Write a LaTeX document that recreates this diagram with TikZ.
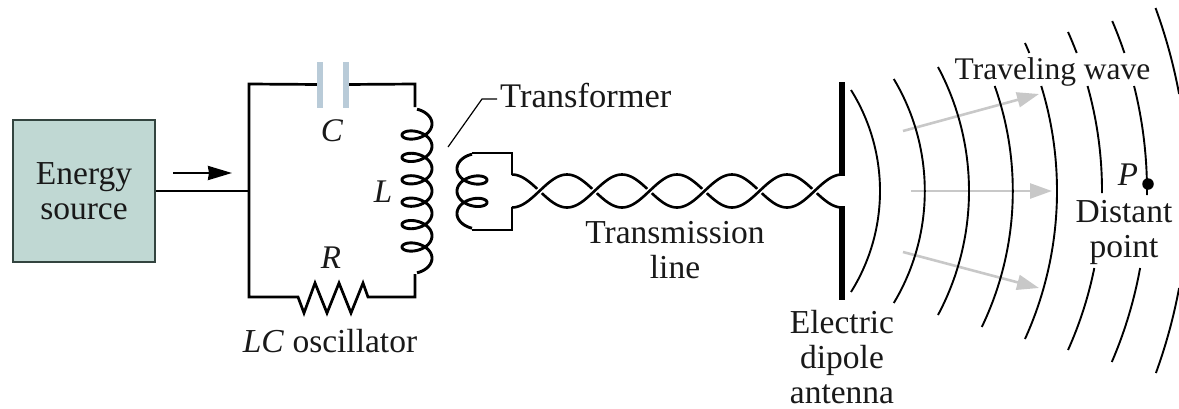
\documentclass[tikz,border=0pt]{standalone}
\usepackage{fontspec}
\setmainfont{Liberation Serif}
\usetikzlibrary{arrows.meta}
\definecolor{boxfill}{HTML}{C0D8D3}
\definecolor{boxline}{HTML}{33443F}
\definecolor{platecol}{HTML}{B9CBD8}
\definecolor{raycol}{HTML}{C8C8C8}
\tikzset{
  wire/.style={draw=black,line width=2.7pt,line join=miter},
  coilwire/.style={draw=black,line width=2.9pt},
  wavefront/.style={draw=black,line width=1.9pt},
  ray/.style={draw=raycol,line width=2.6pt,-{Triangle[length=22pt,width=15pt]}},
  lbl/.style={font=\fontsize{33.5}{35}\selectfont,inner sep=0pt,align=center,text=black!90},
  ital/.style={font=\fontsize{33}{35}\selectfont\itshape,inner sep=0pt,text=black!90},
  plate/.style={fill=platecol,draw=none,minimum width=6pt,minimum height=46pt,inner sep=0pt},
  dipole/.style={draw=black,line width=5.6pt}
}
\newcommand{\wavearc}[4]{\draw[wavefront] plot[domain=#3:#4,samples=40,smooth,variable=\y] ({#1+#2*sqrt(1-((\y-191)/#2)^2)},\y);}
\begin{document}
\begin{tikzpicture}[x=1pt,y=-1pt]
\useasboundingbox (0,0) rectangle (1179,408);
\clip (0,0) rectangle (1179,408);
% energy source
\node[draw=boxline,line width=2pt,fill=boxfill,minimum width=142pt,minimum height=142pt,lbl] (src) at (84,191) {Energy\\source};
\coordinate (tee) at (249,191);
\coordinate (ctl) at (249,84);
\coordinate (cbl) at (249,297);
\coordinate (ctr) at (415,84);
\coordinate (cbr) at (415,297);
\coordinate (coilt) at (415,107);
\coordinate (coilb) at (415,274);
\node[plate] (c1) at (320,84.5) {};
\node[plate] (c2) at (346,84.5) {};
\draw[wire] (src.east |- tee) -- (tee);
\draw[wire] (c1.center) -- (ctl) -- (cbl) -- (298,297) -- (304,313) -- (315,283) -- (327,313) -- (339,283) -- (351,313) -- (363,283) -- (368,297) -- (cbr) -- (coilb);
\draw[wire] (c2.center) -- (ctr) -- (coilt);
\node[plate] at (320,84.5) {};
\node[plate] at (346,84.5) {};
% arrow
\coordinate (a1) at (173,173);
\coordinate (a2) at (232,173);
\draw[draw=black,line width=2.4pt,-{Stealth[length=24pt,width=14pt,inset=1pt]}] (a1) -- (a2);
% primary coil
\draw[coilwire] plot[domain=-90:2250,samples=400,smooth,variable=\t] ({417+15*cos(\t)},{123.8+22.4*(\t/360)+9*sin(\t)});
% secondary coil
\coordinate (s1) at (512,153);
\coordinate (s2) at (512,230);
\coordinate (s1b) at (512,175);
\coordinate (s2b) at (512,207);
\draw[wire] (s1b) -- (s1) -- (472,153);
\draw[coilwire] plot[domain=-90:810,samples=200,smooth,variable=\t] ({472-15*cos(\t)},{168.8+22.4*(\t/360)+9*sin(\t)});
\draw[wire] (472,230) -- (s2) -- (s2b);
% transmission line
\foreach \k in {0,...,5}{
  \draw[draw=black,line width=2.6pt] plot[domain=0:180,samples=30,smooth,variable=\t] ({512+55*\k+55*(\t/180)},{191-16.5*cos(\t)});
}
\foreach \k in {0,...,5}{
  \draw[draw=white,line width=6pt] plot[domain=55:125,samples=12,smooth,variable=\t] ({512+55*\k+55*(\t/180)},{191+16.5*cos(\t)});
  \draw[draw=black,line width=2.6pt] plot[domain=0:180,samples=30,smooth,variable=\t] ({512+55*\k+55*(\t/180)},{191+16.5*cos(\t)});
}
% dipole
\coordinate (d1) at (842,82);
\coordinate (d2) at (842,176);
\coordinate (d3) at (842,206);
\coordinate (d4) at (842,300);
\draw[dipole] (d1) -- (d2);
\draw[dipole] (d3) -- (d4);
% rays
\coordinate (r1a) at (903,131); \coordinate (r1b) at (1039,94);
\coordinate (r2a) at (911,191); \coordinate (r2b) at (1052,191);
\coordinate (r3a) at (903,252); \coordinate (r3b) at (1039,288);
\draw[ray] (r1a) -- (r1b);
\draw[ray] (r2a) -- (r2b);
\draw[ray] (r3a) -- (r3b);
% wavefronts
\wavearc{689.6}{190.4}{90}{292}
\wavearc{707}{217.8}{79}{303}
\wavearc{705.5}{263.5}{67}{315}
\wavearc{699}{313.8}{86}{327}
\wavearc{699}{358}{43}{53}
\wavearc{699}{358}{86}{339}
\wavearc{713}{389}{32}{53}
\wavearc{713}{389}{86}{193}
\wavearc{713}{389}{268}{350}
\wavearc{714}{433}{21}{53}
\wavearc{714}{433}{86}{195}
\wavearc{714}{433}{268}{362}
\wavearc{656}{532}{8}{94}
\wavearc{656}{532}{288}{373}
% point
\node[circle,fill=black,minimum size=11.5pt,inner sep=0pt] (pt) at (1148,184) {};
% leader
\coordinate (ld1) at (448,147);
\coordinate (ld2) at (482,99);
\coordinate (ld3) at (497,99);
\draw[draw=black,line width=1.2pt] (ld1) -- (ld2) -- (ld3);
% labels
\node[lbl,anchor=west,font=\fontsize{34.5}{35}\selectfont] (tf) at (500,96) {Transformer};
\node[lbl,font=\fontsize{31.5}{35}\selectfont] (tw) at (1052.5,72) {Traveling wave};
\node[ital] (lc) at (332,131) {C};
\node[ital] (ll) at (383,192) {L};
\node[ital] (lr) at (331,258) {R};
\node[ital] (lp) at (1128,175) {P};
\node[lbl] (osc) at (330,341) {\textit{LC} oscillator};
\node[lbl] (tline) at (675,250) {Transmission\\line};
\node[lbl] (dp) at (1124,232) {Distant\\point};
\node[lbl,anchor=south] (ant) at (842,404) {Electric\\dipole\\antenna};
\end{tikzpicture}
\end{document}
